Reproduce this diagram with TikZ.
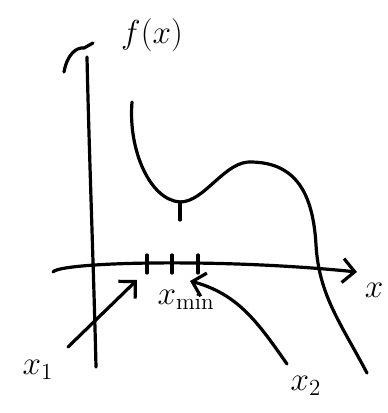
\documentclass[tikz,border=0pt]{standalone}
\usepackage{amsmath,amssymb}
\usetikzlibrary{arrows.meta,positioning,calc}
\tikzset{
  pen/.style={line width=3.2pt, line cap=round, line join=round},
  barb/.style={pen, -{Straight Barb[length=12pt, width=24pt, line width=3.2pt]}},
  hlab/.style={font=\huge, scale=1.6},
  tickmark/.style={pen},
}

\begin{document}
\begin{tikzpicture}[x=1pt, y=-1pt]
    \useasboundingbox (0,0) rectangle (388,413);
    % axes
    \coordinate (ytop) at (87,57);
    \coordinate (ybot) at (96,367);
    \coordinate (xleft) at (53,272);
    \coordinate (xtip) at (357,272);
    \draw[pen] (ytop) .. controls (89,150) and (94,280) .. (ybot);
    \draw[pen] (64,72) .. controls (67,55) and (76,47) .. (84,48) -- (93,43);
    \draw[barb] (xleft) .. controls (60,262) and (220,258) .. (xtip);
    \node[hlab] (fx) at (152,35) {$f(x)$};
    \node[hlab] (xlab) at (374,290) {$x$};
    % the function
    \draw[pen] (132,102) .. controls (128,150) and (150,200) .. (180,202)
      .. controls (205,202) and (225,160) .. (252,162)
      .. controls (295,163) and (313,192) .. (316,245)
      .. controls (319,295) and (340,322) .. (367,373);
    \coordinate (mn) at (180,202);
    \draw[tickmark] (mn) -- ++(0,18);
    % ticks near the minimum
    \foreach \t/\xx in {a/147,b/172,c/198}{
      \coordinate (t\t) at (\xx,264);
      \draw[tickmark] ($(t\t)+(0,-9)$) -- ($(t\t)+(0,9)$);
    }
    \node[hlab] (xmin) at (186,300) {$x_{\min}$};
    \node[hlab] (xone) at (38,370) {$x_1$};
    \node[hlab] (xtwo) at (306,386) {$x_2$};
    \coordinate (aim1) at (137,280);
    \coordinate (aim2) at (190,281);
    \draw[barb] (68,347) -- (aim1);
    \draw[barb] (287,364) to[out=125, in=-15] (aim2);
\end{tikzpicture}
\end{document}
